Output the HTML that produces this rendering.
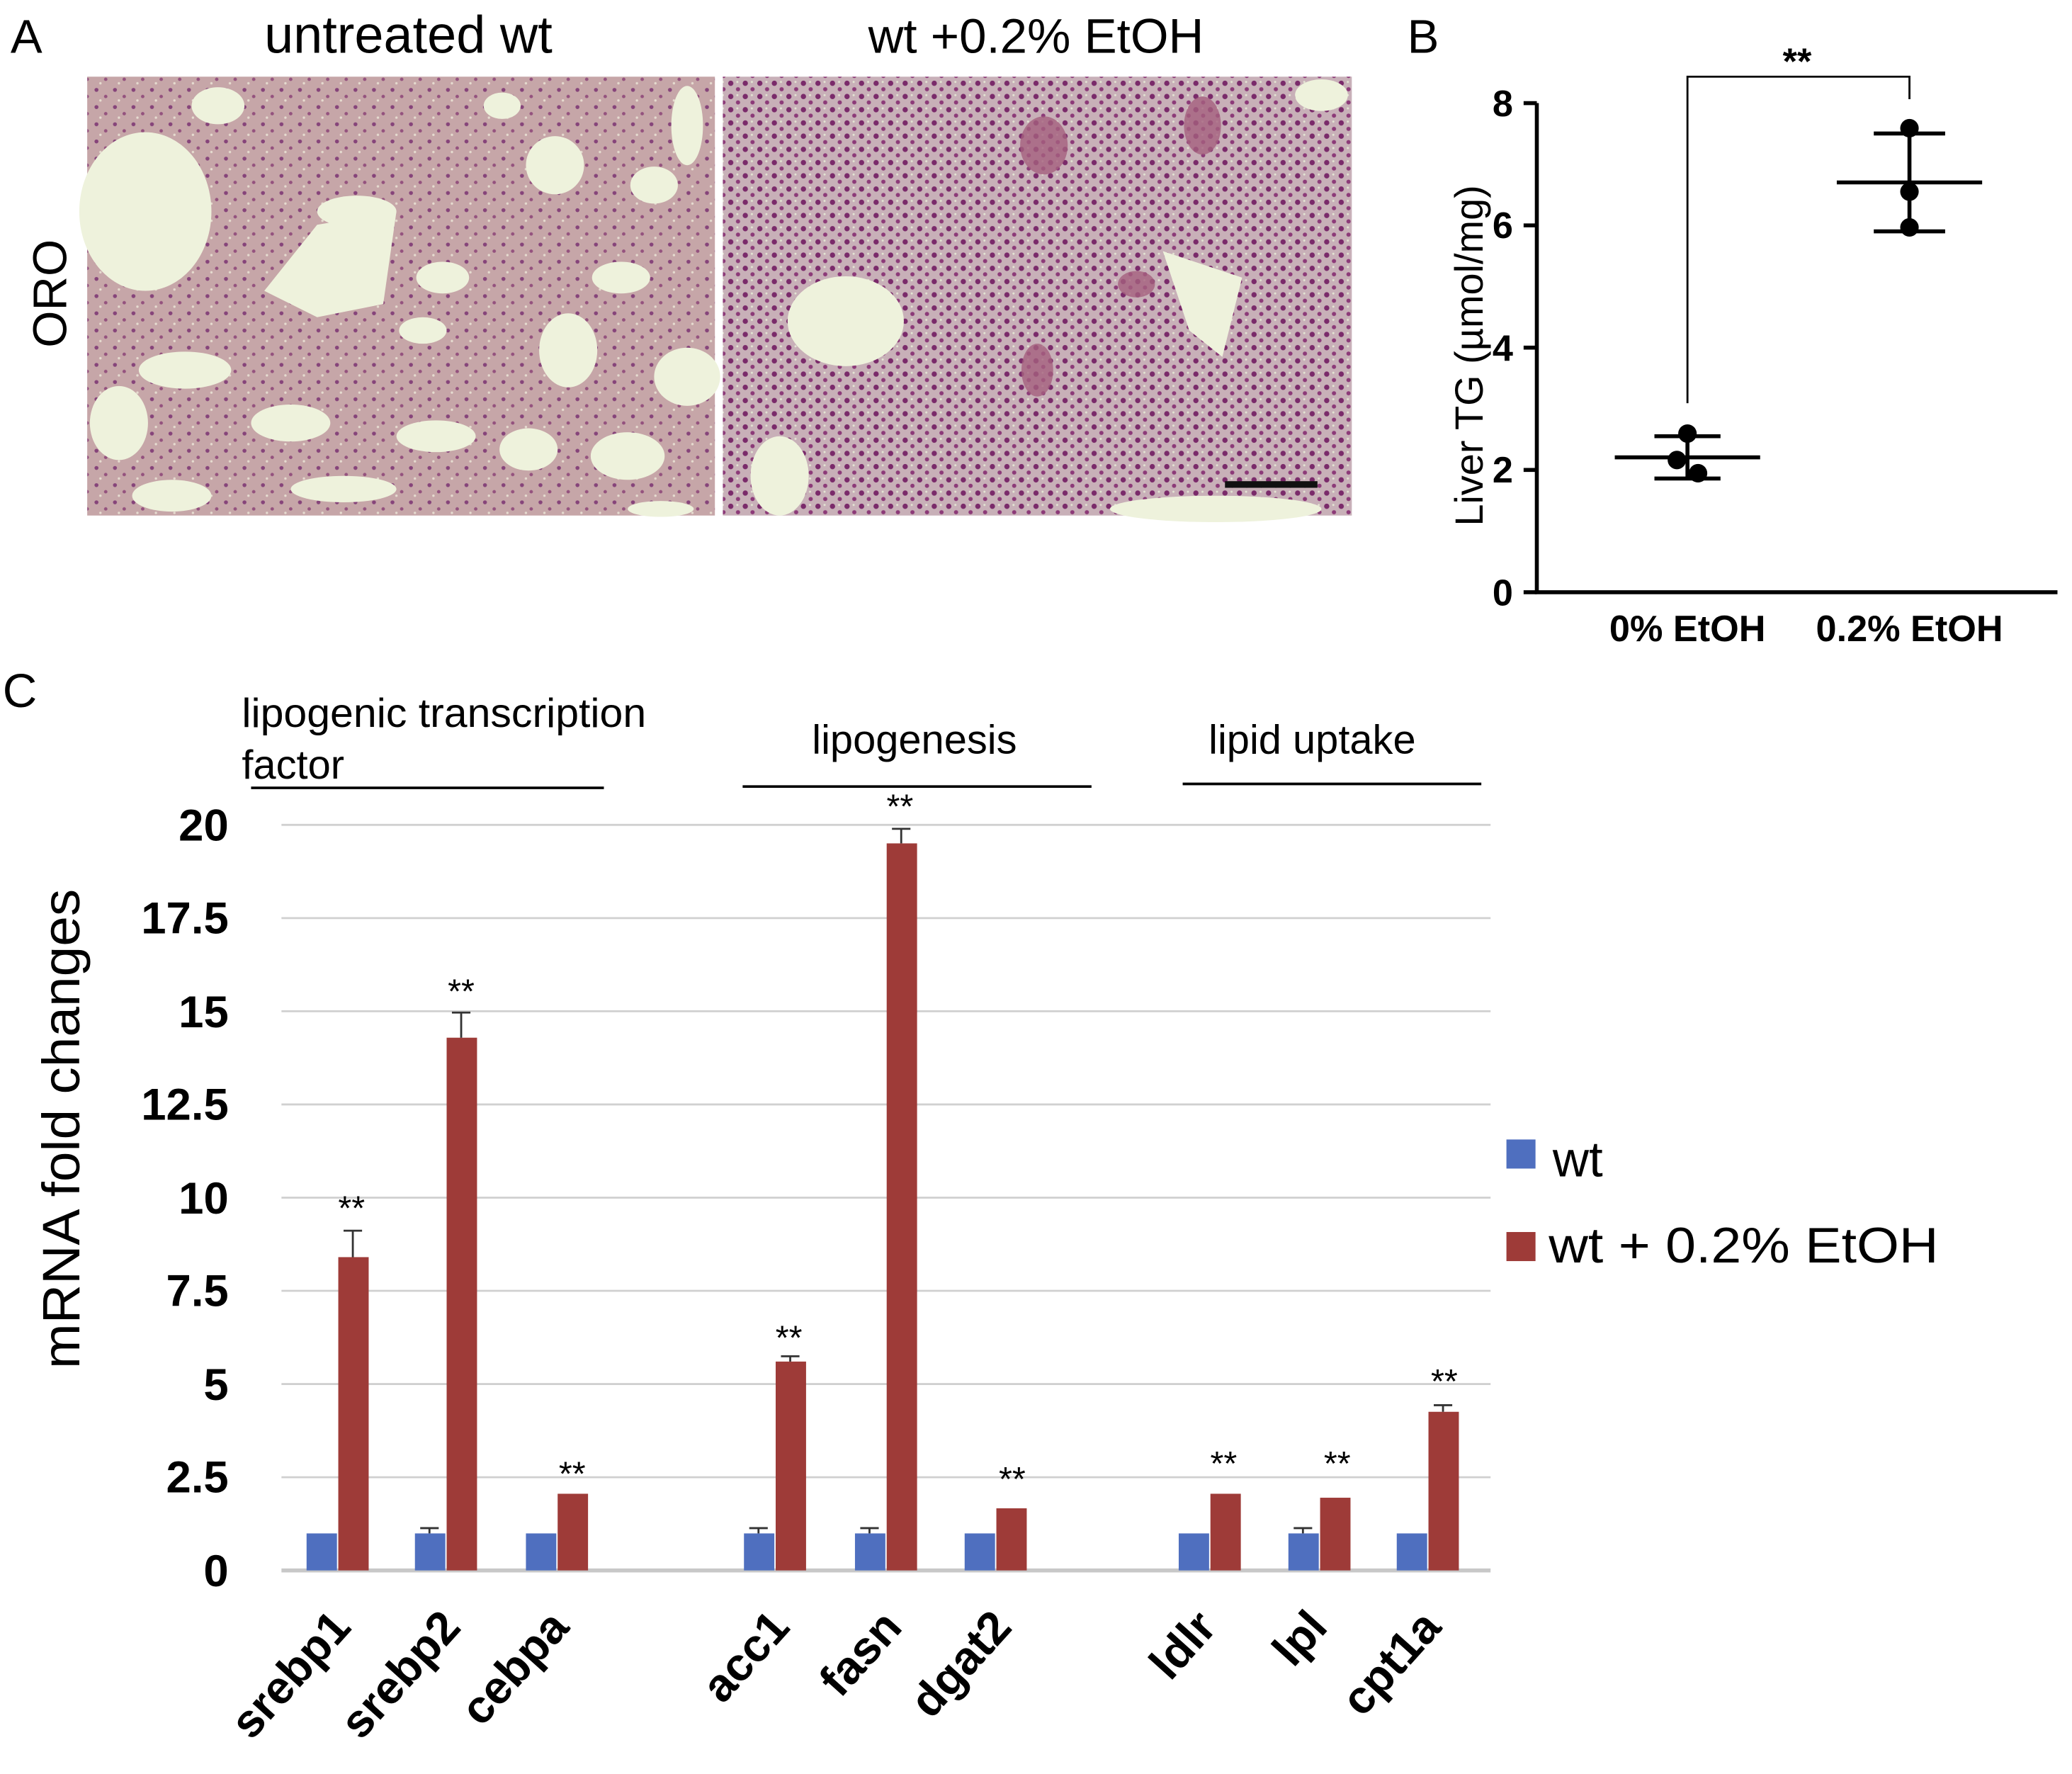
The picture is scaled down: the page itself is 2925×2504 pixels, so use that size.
<!DOCTYPE html>
<html><head><meta charset="utf-8"><style>
html,body{margin:0;padding:0;background:#fff}
svg{display:block}
text{font-family:"Liberation Sans",Arial,sans-serif}
</style></head><body>
<svg width="2925" height="2504" viewBox="0 0 1568 1342" preserveAspectRatio="none" xmlns="http://www.w3.org/2000/svg">
<defs>
<pattern id="pl" width="14" height="13" patternUnits="userSpaceOnUse">
<rect width="14" height="13" fill="#c6a6a8"/>
<circle cx="3" cy="3" r="1.5" fill="#86447a"/>
<circle cx="10" cy="8" r="1.3" fill="#94527e"/>
<circle cx="6" cy="11" r="0.9" fill="#e6dcd0"/>
</pattern>
<pattern id="pr" width="11" height="10" patternUnits="userSpaceOnUse">
<rect width="11" height="10" fill="#c8b0b8"/>
<circle cx="3" cy="3" r="2" fill="#7a2a6a"/>
<circle cx="8.5" cy="7.5" r="1.6" fill="#8c3a78"/>
<circle cx="8" cy="2" r="0.8" fill="#e4e6d4"/>
</pattern>
</defs>

<!-- Panel A -->
<text x="8" y="40" font-size="36">A</text>
<text x="309" y="40" font-size="40" text-anchor="middle" textLength="218" lengthAdjust="spacingAndGlyphs">untreated wt</text>
<text x="784" y="40" font-size="37" text-anchor="middle" textLength="254" lengthAdjust="spacingAndGlyphs">wt +0.2% EtOH</text>
<text x="50" y="222" font-size="36" text-anchor="middle" transform="rotate(-90 50 222)">ORO</text>

<rect x="66" y="58" width="475" height="332" fill="url(#pl)"/>
<g fill="#eef2dc">
<ellipse cx="110" cy="160" rx="50" ry="60"/>
<ellipse cx="165" cy="80" rx="20" ry="14"/>
<ellipse cx="270" cy="160" rx="30" ry="12"/>
<path d="M240 170 L300 160 L290 230 L240 240 L200 220Z"/>
<ellipse cx="335" cy="210" rx="20" ry="12"/>
<ellipse cx="420" cy="125" rx="22" ry="22"/>
<ellipse cx="470" cy="210" rx="22" ry="12"/>
<ellipse cx="520" cy="95" rx="12" ry="30"/>
<ellipse cx="495" cy="140" rx="18" ry="14"/>
<ellipse cx="430" cy="265" rx="22" ry="28"/>
<ellipse cx="520" cy="285" rx="25" ry="22"/>
<ellipse cx="320" cy="250" rx="18" ry="10"/>
<ellipse cx="140" cy="280" rx="35" ry="14"/>
<ellipse cx="220" cy="320" rx="30" ry="14"/>
<ellipse cx="90" cy="320" rx="22" ry="28"/>
<ellipse cx="330" cy="330" rx="30" ry="12"/>
<ellipse cx="400" cy="340" rx="22" ry="16"/>
<ellipse cx="475" cy="345" rx="28" ry="18"/>
<ellipse cx="260" cy="370" rx="40" ry="10"/>
<ellipse cx="130" cy="375" rx="30" ry="12"/>
<ellipse cx="380" cy="80" rx="14" ry="10"/>
<ellipse cx="500" cy="385" rx="25" ry="6"/>
</g>
<rect x="547" y="58" width="476" height="332" fill="url(#pr)"/>
<g fill="#eef2dc">
<ellipse cx="640" cy="243" rx="44" ry="34"/>
<path d="M880 190 L940 210 L925 270 L900 250Z"/>
<ellipse cx="590" cy="360" rx="22" ry="30"/>
<ellipse cx="1000" cy="72" rx="20" ry="12"/>
<ellipse cx="920" cy="385" rx="80" ry="10"/>
</g>
<g fill="#a5607e" opacity="0.8">
<ellipse cx="790" cy="110" rx="18" ry="22"/>
<ellipse cx="910" cy="95" rx="14" ry="22"/>
<ellipse cx="860" cy="215" rx="14" ry="10"/>
<ellipse cx="785" cy="280" rx="12" ry="20"/>
</g>
<rect x="927" y="364" width="70" height="5" fill="#111"/>

<!-- Panel B -->
<text x="1065" y="40" font-size="36">B</text>
<g stroke="#000" stroke-width="3" fill="none">
<path d="M1163 78 V448 H1557"/>
<path d="M1153 78 H1163 M1153 170.5 H1163 M1153 263 H1163 M1153 355.5 H1163 M1153 448 H1163"/>
<path d="M1277 305 V58 H1445 V75" stroke-width="1.5"/>
<path d="M1222 346 H1332 M1252 330 H1302 M1252 362 H1302 M1277 330 V362"/>
<path d="M1390 138 H1500 M1418 101 H1472 M1418 175 H1472 M1445 101 V175"/>
</g>
<g fill="#000">
<circle cx="1277" cy="328" r="7"/><circle cx="1269" cy="348" r="7"/><circle cx="1285" cy="358" r="7"/>
<circle cx="1445" cy="97" r="7"/><circle cx="1445" cy="145" r="7"/><circle cx="1445" cy="172" r="7"/>
</g>
<g font-size="28" font-weight="bold" text-anchor="end">
<text x="1145" y="88">8</text><text x="1145" y="180">6</text><text x="1145" y="273">4</text><text x="1145" y="365">2</text><text x="1145" y="458">0</text>
</g>
<text x="1360" y="56" font-size="28" font-weight="bold" text-anchor="middle">**</text>
<text x="1122" y="269" font-size="30" text-anchor="middle" transform="rotate(-90 1122 269)" textLength="258" lengthAdjust="spacingAndGlyphs">Liver TG (µmol/mg)</text>
<text x="1277" y="485" font-size="28" font-weight="bold" text-anchor="middle">0% EtOH</text>
<text x="1445" y="485" font-size="28" font-weight="bold" text-anchor="middle">0.2% EtOH</text>

<!-- Panel C -->
<text x="2" y="535" font-size="36">C</text>
<g font-size="31">
<text x="183" y="550" textLength="306" lengthAdjust="spacingAndGlyphs">lipogenic transcription</text>
<text x="183" y="589">factor</text>
<text x="692" y="570" text-anchor="middle">lipogenesis</text>
<text x="993" y="570" text-anchor="middle">lipid uptake</text>
</g>
<g stroke="#000" stroke-width="2">
<line x1="190" y1="596" x2="457" y2="596"/>
<line x1="562" y1="595" x2="826" y2="595"/>
<line x1="895" y1="593" x2="1121" y2="593"/>
</g>
<g stroke="#d0d0d0" stroke-width="1.5">
<line x1="213" y1="624" x2="1128" y2="624"/>
<line x1="213" y1="694.5" x2="1128" y2="694.5"/>
<line x1="213" y1="765" x2="1128" y2="765"/>
<line x1="213" y1="835.5" x2="1128" y2="835.5"/>
<line x1="213" y1="906" x2="1128" y2="906"/>
<line x1="213" y1="976.5" x2="1128" y2="976.5"/>
<line x1="213" y1="1047" x2="1128" y2="1047"/>
<line x1="213" y1="1117.5" x2="1128" y2="1117.5"/>
</g>
<line x1="213" y1="1188" x2="1128" y2="1188" stroke="#c8c8c8" stroke-width="3"/>
<g font-size="34" font-weight="bold" text-anchor="end">
<text x="173" y="636">20</text><text x="173" y="706">17.5</text><text x="173" y="777">15</text><text x="173" y="847">12.5</text>
<text x="173" y="918">10</text><text x="173" y="988">7.5</text><text x="173" y="1059">5</text><text x="173" y="1129">2.5</text><text x="173" y="1200">0</text>
</g>
<text x="60" y="854" font-size="40" text-anchor="middle" transform="rotate(-90 60 854)" textLength="363" lengthAdjust="spacingAndGlyphs">mRNA fold changes</text>

<g fill="#4f6fbf">
<rect x="232" y="1160" width="23" height="28"/><rect x="314" y="1160" width="23" height="28"/><rect x="398" y="1160" width="23" height="28"/>
<rect x="563" y="1160" width="23" height="28"/><rect x="647" y="1160" width="23" height="28"/><rect x="730" y="1160" width="23" height="28"/>
<rect x="892" y="1160" width="23" height="28"/><rect x="975" y="1160" width="23" height="28"/><rect x="1057" y="1160" width="23" height="28"/>
</g>
<g fill="#9e3b38">
<rect x="256" y="951" width="23" height="237"/>
<rect x="338" y="785" width="23" height="403"/>
<rect x="422" y="1130" width="23" height="58"/>
<rect x="587" y="1030" width="23" height="158"/>
<rect x="671" y="638" width="23" height="550"/>
<rect x="754" y="1141" width="23" height="47"/>
<rect x="916" y="1130" width="23" height="58"/>
<rect x="999" y="1133" width="23" height="55"/>
<rect x="1081" y="1068" width="23" height="120"/>
</g>
<g stroke="#333" stroke-width="1.5" fill="none">
<path d="M267 951 V931 M260 931 H274"/>
<path d="M349 785 V766 M342 766 H356"/>
<path d="M598 1030 V1026 M591 1026 H605"/>
<path d="M682 638 V627 M675 627 H689"/>
<path d="M1092 1068 V1063 M1085 1063 H1099"/>
<path d="M325 1160 V1156 M318 1156 H332"/>
<path d="M574 1160 V1156 M567 1156 H581"/>
<path d="M658 1160 V1156 M651 1156 H665"/>
<path d="M986 1160 V1156 M979 1156 H993"/>
</g>
<g font-size="26" text-anchor="middle">
<text x="266" y="923">**</text><text x="349" y="759">**</text><text x="433" y="1124">**</text>
<text x="597" y="1021">**</text><text x="681" y="619">**</text><text x="766" y="1128">**</text>
<text x="926" y="1116">**</text><text x="1012" y="1116">**</text><text x="1093" y="1054">**</text>
</g>
<g font-size="35" font-weight="bold" text-anchor="end">
<text transform="translate(267 1232) rotate(-48)">srebp1</text>
<text transform="translate(350 1232) rotate(-48)">srebp2</text>
<text transform="translate(432 1232) rotate(-48)">cebpa</text>
<text transform="translate(599 1232) rotate(-48)">acc1</text>
<text transform="translate(684 1232) rotate(-48)">fasn</text>
<text transform="translate(767 1232) rotate(-48)">dgat2</text>
<text transform="translate(922 1232) rotate(-48)">ldlr</text>
<text transform="translate(1006 1232) rotate(-48)">lpl</text>
<text transform="translate(1092 1232) rotate(-48)">cpt1a</text>
</g>
<rect x="1140" y="862" width="22" height="22" fill="#4f6fbf"/>
<text x="1175" y="890" font-size="38">wt</text>
<rect x="1140" y="932" width="22" height="22" fill="#9e3b38"/>
<text x="1172" y="955" font-size="38" textLength="295" lengthAdjust="spacingAndGlyphs">wt + 0.2% EtOH</text>
</svg>
</body></html>
